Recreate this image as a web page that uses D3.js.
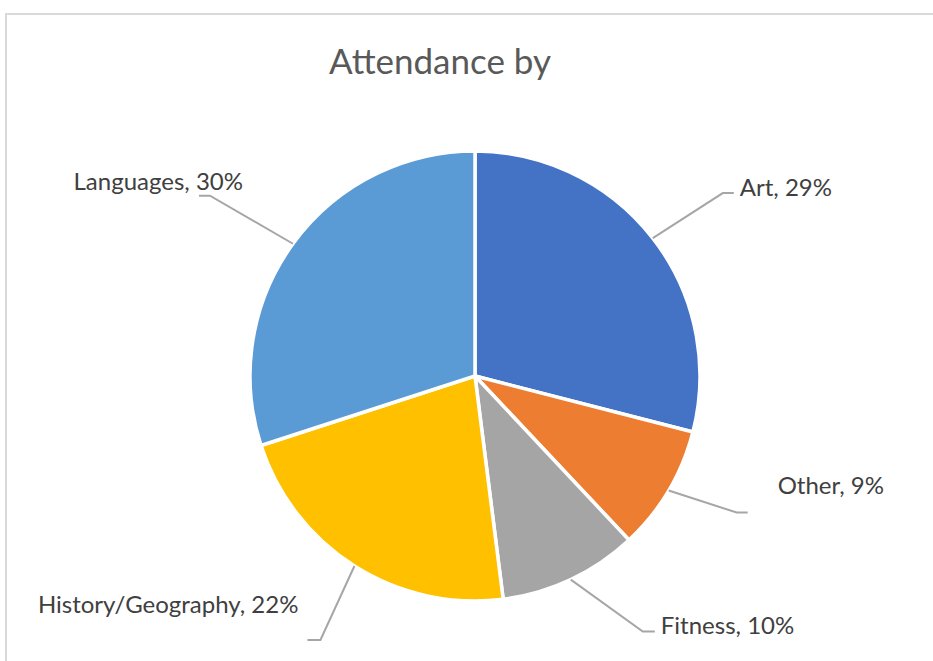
<!DOCTYPE html>
<html>
<head>
<meta charset="utf-8">
<script src="https://cdn.jsdelivr.net/npm/d3@7"></script>
<style>
  html, body { margin: 0; padding: 0; background: #fff; }
  svg { display: block; }
</style>
</head>
<body>
<svg id="chart" width="933" height="661"></svg>
<script>
// data
const categories = ["Art", "Other", "Fitness", "History/Geography", "Languages"];
const percents = [29, 9, 10, 22, 30];
const colors = ["#4472c4", "#ed7d31", "#a5a5a5", "#ffc000", "#5b9bd5"];
const title = "Attendance by";

// label layout: elbow offset from the slice edge, tail length, then text offset from tail end
const elbowOff = [[70, -45], [68, 22], [72, 52], [-34, 74], [-83, -48]];
const tail = [11, 11, 12, -13, -11];
const textOff = [[6, -6], [30, -27], [6, -6], [-9, -35], [44, -14]];

const svg = d3.select("#chart");
const cx = 475, cy = 376, r = 225;

// frame
svg.append("rect")
  .attr("x", 6).attr("y", 14)
  .attr("width", 940).attr("height", 660)
  .attr("fill", "none")
  .attr("stroke", "#d9d9d9")
  .attr("stroke-width", 2);

svg.append("text")
  .attr("x", 440).attr("y", 74)
  .attr("text-anchor", "middle")
  .attr("font-family", "Lato, 'Open Sans', sans-serif")
  .attr("font-size", 35)
  .attr("fill", "#595959")
  .text(title);

const rows = categories.map((c, i) => ({ name: c, value: percents[i], color: colors[i] }));

const pie = d3.pie().value(d => d.value).sort(null);
const arc = d3.arc().innerRadius(0).outerRadius(r);
const arcs = pie(rows);

const g = svg.append("g").attr("transform", `translate(${cx},${cy})`);

g.selectAll(".slice")
  .data(arcs)
  .enter()
  .append("path")
  .classed("slice", true)
  .attr("d", arc)
  .attr("fill", d => d.data.color)
  .attr("stroke", "#fff")
  .attr("stroke-width", 3.5)
  .attr("stroke-linejoin", "round");

// leader lines + labels
arcs.forEach((d, i) => {
  const mid = (d.startAngle + d.endAngle) / 2;
  const ex = r * Math.sin(mid), ey = -r * Math.cos(mid);
  const bx = ex + elbowOff[i][0], by = ey + elbowOff[i][1];
  const tx = bx + tail[i];

  g.append("polyline")
    .attr("points", [[ex, ey], [bx, by], [tx, by]].map(p => p.join(",")).join(" "))
    .attr("fill", "none")
    .attr("stroke", "#a6a6a6")
    .attr("stroke-width", 2);

  const right = tail[i] > 0;
  g.append("text")
    .attr("x", tx + textOff[i][0])
    .attr("y", by + textOff[i][1])
    .attr("dy", "0.35em")
    .attr("text-anchor", right ? "start" : "end")
    .attr("font-family", "Lato, 'Open Sans', sans-serif")
    .attr("font-size", 24)
    .attr("fill", "#404040")
    .text(`${d.data.name}, ${d.data.value}%`);
});
</script>
</body>
</html>
